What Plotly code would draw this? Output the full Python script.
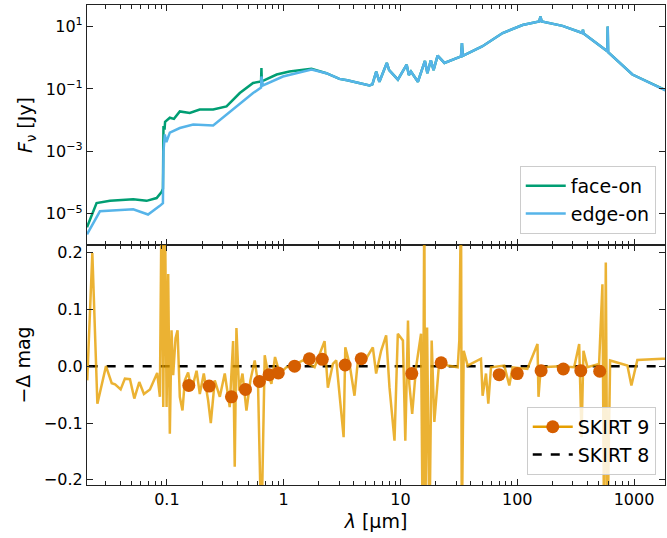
import plotly.graph_objects as go
from plotly.subplots import make_subplots

# ---------------- top panel: SEDs ----------------
face_wl = [0.0207, 0.025, 0.0326, 0.0515, 0.067, 0.0817, 0.090, 0.0925, 0.0935, 0.0955,
           0.0965, 0.106, 0.115, 0.129, 0.157, 0.191, 0.249, 0.324, 0.421, 0.547,
           0.640, 0.645, 0.650, 0.871, 1.12, 1.73, 2.32]
face_fl = [3.7e-6, 2.2e-5, 2.6e-5, 2.9e-5, 2.6e-5, 3.2e-5, 5.0e-5, 6.3e-5, 6.5e-3, 5.0e-3,
           8.9e-3, 1.2e-2, 1.1e-2, 1.9e-2, 1.7e-2, 2.2e-2, 2.2e-2, 2.75e-2, 7.4e-2, 0.155,
           0.174, 0.47, 0.176, 0.29, 0.36, 0.44, 0.32]

edge_wl = [0.0207, 0.0267, 0.0515, 0.069, 0.087, 0.0925, 0.0935, 0.096, 0.099, 0.106,
           0.129, 0.168, 0.249, 0.369, 0.547, 0.640, 0.645, 0.665, 0.986, 1.73, 2.32]
edge_fl = [2.2e-6, 1.2e-5, 1.4e-5, 9.5e-6, 1.8e-5, 2.2e-5, 1.0e-3, 3.5e-3, 2.0e-3, 4.0e-3,
           5.6e-3, 7.2e-3, 6.8e-3, 2.2e-2, 7.4e-2, 0.11, 0.25, 0.13, 0.25, 0.42, 0.32]

# infrared part, identical for both orientations
ir_wl = [3.0, 3.5, 5.43, 5.75, 6.2, 6.6, 7.64, 8.0, 9.5, 11.3, 11.8, 12.3, 14.1, 16.2, 17.0,
         18.2, 19.2, 20.8, 23.8, 33.0, 33.6, 34.2, 50, 75, 111, 154, 158, 162, 244, 361,
         365, 370, 590, 595, 600, 968, 1800, 2000]
ir_fl = [0.21, 0.19, 0.13, 0.14, 0.36, 0.17, 0.68, 0.40, 0.20, 0.60, 0.28, 0.36, 0.17, 0.79, 0.32,
         0.83, 0.40, 1.17, 0.68, 1.10, 2.95, 1.15, 2.3, 6.2, 11.2, 14.5, 20.9, 14.5, 10.5, 6.2,
         7.9, 6.0, 1.6, 10.0, 1.5, 0.29, 0.095, 0.08]

# ---------------- bottom panel: -Delta mag ----------------
dm_wl = [0.0208, 0.0230, 0.0254, 0.0301, 0.0337, 0.0360, 0.0402, 0.0437, 0.0483, 0.0526,
         0.0580, 0.0636, 0.0716, 0.0826, 0.0871, 0.0901, 0.0931, 0.0962, 0.0994, 0.1026,
         0.106, 0.1096, 0.1132, 0.1186, 0.1234, 0.129, 0.136, 0.1425, 0.152, 0.1625,
         0.1795, 0.1914, 0.207, 0.2254, 0.2377, 0.257, 0.284, 0.313, 0.345, 0.369,
         0.381, 0.394, 0.415, 0.444, 0.480, 0.519, 0.565, 0.603, 0.644, 0.688,
         0.735, 0.785, 0.843, 0.925, 1.054, 1.20, 1.46, 1.84, 2.24, 2.39,
         2.64, 2.82, 3.26, 3.37, 3.66, 4.04, 4.32, 5.08, 5.80, 6.19,
         6.83, 7.54, 8.05, 8.89, 9.49, 10.5, 11.0, 11.6, 11.9, 12.6,
         13.6, 15.0, 15.5, 16.0, 16.3, 16.9, 17.7, 18.5, 19.5, 21.5,
         25.4, 30.9, 31.9, 33.0, 33.5, 34.8, 37.6, 48.9, 50.5, 54.0,
         56.5, 59.6, 77.4, 85.5, 91.2, 122, 149, 152, 159, 236,
         307, 339, 355, 369, 399, 502, 536, 554, 573, 592,
         624, 877, 949, 1067, 1746, 2000]
dm_val = [-0.025, 0.199, -0.066, 0.000, -0.030, -0.032, -0.041, -0.022, -0.023, -0.057,
          -0.028, -0.049, -0.041, -0.012, -0.054, 0.30, -0.072, 0.30, -0.072, 0.162,
          -0.119, 0.063, -0.016, 0.049, 0.063, -0.054, -0.078, -0.025, -0.011, -0.043,
          -0.008, -0.049, -0.013, -0.060, -0.100, -0.025, -0.054, -0.013, -0.072, 0.044,
          -0.177, 0.067, -0.043, -0.013, -0.078, -0.025, 0.010, -0.031, -0.30, 0.019,
          -0.013, -0.031, 0.016, -0.013, -0.002, 0.001, 0.010, -0.002, 0.044, -0.038,
          0.004, 0.010, -0.125, 0.033, 0.004, -0.052, 0.010, 0.013, 0.033, -0.013,
          0.027, 0.054, -0.037, -0.131, 0.057, 0.045, -0.131, 0.080, -0.031, -0.084,
          -0.002, 0.057, -0.30, 0.30, -0.30, 0.068, -0.30, 0.045, -0.098, 0.010,
          0.001, -0.002, 0.045, 0.30, -0.30, 0.027, 0.001, 0.013, -0.052, -0.013,
          -0.066, -0.002, 0.001, -0.034, -0.002, -0.005, 0.039, -0.054, -0.002, 0.000,
          -0.002, 0.039, -0.125, 0.027, -0.002, 0.004, 0.144, -0.30, 0.182, -0.30,
          0.010, 0.001, -0.034, 0.011, 0.013, 0.013]

band_wl = [0.154, 0.230, 0.357, 0.471, 0.62, 0.75, 0.90, 1.24, 1.66, 2.14,
           3.36, 4.61, 12.5, 22.3, 70, 100, 160, 248, 350, 508]
band_dm = [-0.034, -0.035, -0.054, -0.041, -0.027, -0.015, -0.012, 0.000, 0.013, 0.012,
           0.002, 0.013, -0.013, 0.006, -0.015, -0.013, -0.008, -0.005, -0.008, -0.009]

ref_wl = [0.015, 3000]
ref_dm = [0.0, 0.0]

# ---------------- figure ----------------
GREEN = "#009E73"
BLUE = "#56B4E9"
ORANGE = "rgba(230,159,0,0.8)"
VERM = "#D55E00"
FONT = "DejaVu Sans"
AX = "#222222"
LW = 2.5

fig = make_subplots(rows=2, cols=1, shared_xaxes=True, vertical_spacing=0.0)

fig.add_trace(go.Scatter(x=face_wl + ir_wl, y=face_fl + ir_fl, mode="lines",
                         line=dict(color=GREEN, width=LW), name="face-on",
                         legend="legend"), row=1, col=1)
fig.add_trace(go.Scatter(x=edge_wl + ir_wl, y=edge_fl + ir_fl, mode="lines",
                         line=dict(color=BLUE, width=LW), name="edge-on",
                         legend="legend"), row=1, col=1)

fig.add_trace(go.Scatter(x=ref_wl, y=ref_dm, mode="lines",
                         line=dict(color="black", width=LW, dash="dash"),
                         showlegend=False), row=2, col=1)
fig.add_trace(go.Scatter(x=dm_wl, y=dm_val, mode="lines",
                         line=dict(color=ORANGE, width=LW), showlegend=False),
              row=2, col=1)
fig.add_trace(go.Scatter(x=band_wl, y=band_dm, mode="markers",
                         marker=dict(color=VERM, size=13), showlegend=False),
              row=2, col=1)
# legend entries for bottom panel
fig.add_trace(go.Scatter(x=[None], y=[None], mode="lines+markers", name="SKIRT 9",
                         line=dict(color="#E69F00", width=LW),
                         marker=dict(color=VERM, size=13), legend="legend2"),
              row=2, col=1)
fig.add_trace(go.Scatter(x=[None], y=[None], mode="lines", name="SKIRT 8",
                         line=dict(color="black", width=LW, dash="dash"),
                         legend="legend2"), row=2, col=1)

xrange = [-1.684, 3.265]
common_x = dict(type="log", range=xrange, showline=True, linecolor=AX, linewidth=1.2,
                mirror="allticks", ticks="inside", ticklen=6, tickwidth=1.2, tickcolor=AX,
                showgrid=False, zeroline=False,
                minor=dict(ticks="inside", ticklen=3.5, tickwidth=1, tickcolor=AX,
                           dtick="D1", showgrid=False),
                tickvals=[0.1, 1, 10, 100, 1000], ticktext=["0.1", "1", "10", "100", "1000"],
                tickfont=dict(family=FONT, size=16, color="black"))

fig.update_xaxes(**common_x)
fig.update_xaxes(showticklabels=False, row=1, col=1)
fig.update_xaxes(title=dict(text="<i>λ</i> [μm]", font=dict(family=FONT, size=19, color="black"),
                            standoff=6), row=2, col=1)

fig.update_yaxes(type="log", range=[-6.0, 1.69], showline=True, linecolor=AX, linewidth=1.2,
                 mirror="allticks", ticks="inside", ticklen=6, tickwidth=1.2, tickcolor=AX,
                 showgrid=False, zeroline=False,
                 tickvals=[10, 0.1, 1e-3, 1e-5],
                 ticktext=["10<sup>1</sup>", "10<sup>−1</sup>", "10<sup>−3</sup>", "10<sup>−5</sup>"],
                 tickfont=dict(family=FONT, size=16, color="black"),
                 title=dict(text="<i>F</i><sub>ν</sub> [Jy]",
                            font=dict(family=FONT, size=19, color="black"), standoff=8),
                 row=1, col=1)
fig.update_yaxes(range=[-0.209, 0.213], showline=True, linecolor=AX, linewidth=1.2,
                 mirror="allticks", ticks="inside", ticklen=6, tickwidth=1.2, tickcolor=AX,
                 showgrid=False, zeroline=False,
                 tickvals=[-0.2, -0.1, 0.0, 0.1, 0.2], tickformat=".1f",
                 tickfont=dict(family=FONT, size=16, color="black"),
                 title=dict(text="−Δ mag", font=dict(family=FONT, size=19, color="black"),
                            standoff=8),
                 row=2, col=1)

legend_style = dict(bgcolor="rgba(255,255,255,0.8)", bordercolor="#cccccc", borderwidth=1,
                    font=dict(family=FONT, size=19, color="black"),
                    xanchor="right", yanchor="bottom", itemwidth=40, tracegroupgap=0)
fig.update_layout(
    width=667, height=538,
    margin=dict(l=87, r=2, t=5, b=53),
    plot_bgcolor="white", paper_bgcolor="white",
    font=dict(family=FONT, size=16, color="black"),
    legend=dict(x=0.984, y=0.523, **legend_style),
    legend2=dict(x=0.984, y=0.021, **legend_style),
)
fig.update_yaxes(domain=[0.5, 1.0], row=1, col=1)
fig.update_yaxes(domain=[0.0, 0.5], row=2, col=1)

fig.write_html("out.html")
